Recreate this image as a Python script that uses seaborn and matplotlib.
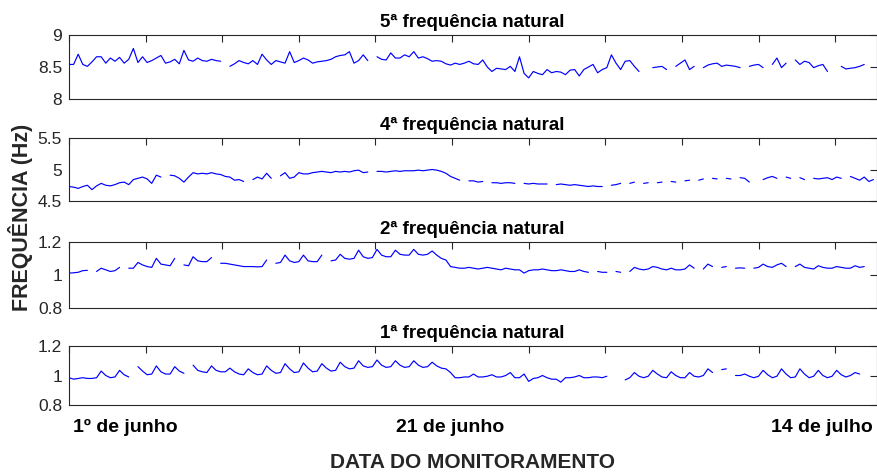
import numpy as np
import pandas as pd
import matplotlib
matplotlib.use("Agg")
import matplotlib.pyplot as plt
import matplotlib.transforms as mtransforms
import seaborn as sns

nan = np.nan
STEP_H = 6  # hours between stored samples

# 5a frequencia natural (Hz)
f5 = [
    8.54, 8.54, 8.70, 8.54,  8.51, 8.58, 8.66, 8.66,
    8.56, 8.64, 8.59, 8.65,  8.56, 8.62, 8.79, 8.57,
    8.66, 8.57, 8.60, 8.64,  8.68, 8.56, 8.58, 8.62,
    8.55, 8.76, 8.61, 8.59,  8.64, 8.60, 8.59, 8.62,
    8.60, 8.59, nan, 8.51,   8.55, 8.60, 8.57, 8.55,
    8.60, 8.54, 8.70, 8.61,  8.54, 8.60, 8.58, 8.56,
    8.74, 8.57, 8.60, 8.64,  8.61, 8.56, 8.58, 8.59,
    8.60, 8.62, 8.66, 8.68,  8.69, 8.74, 8.56, 8.60,
    8.69, 8.60, nan, 8.66,   8.62, 8.61, 8.72, 8.64,
    8.64, 8.69, 8.66, 8.74,  8.64, 8.66, 8.63, 8.59,
    8.60, 8.59, 8.55, 8.53,  8.56, 8.54, 8.56, 8.59,
    8.55, 8.54, 8.61, 8.50,  8.43, 8.48, 8.47, 8.46,
    8.51, 8.43, 8.66, 8.40,  8.33, 8.43, 8.40, 8.38,
    8.46, 8.41, 8.43, 8.42,  8.38, 8.45, 8.46, 8.36,
    8.46, 8.50, 8.54, 8.41,  8.46, 8.49, 8.69, 8.56,
    8.46, 8.59, 8.60, 8.51,  8.43, nan, nan, 8.49,
    8.50, 8.51, 8.46, nan,   8.51, 8.56, 8.61, 8.46,
    8.51, nan, 8.49, 8.53,   8.55, 8.56, 8.51, 8.53,
    8.52, 8.51, 8.49, nan,   8.51, 8.53, 8.54, 8.49,
    nan, 8.54, 8.64, 8.49,   8.56, nan, 8.61, 8.54,
    8.59, 8.57, 8.49, 8.52,  8.54, 8.43, nan, nan,
    8.51, 8.47, 8.48, 8.49,  8.51, 8.54, nan, nan,
]

# 4a frequencia natural (Hz)
f4 = [
    4.73, 4.72, 4.70, 4.73,  4.75, 4.68, 4.74, 4.78,
    4.75, 4.74, 4.76, 4.79,  4.80, 4.76, 4.84, 4.86,
    4.88, 4.85, 4.78, 4.91,  4.88, nan, 4.91, 4.90,
    4.86, 4.80, 4.88, 4.95,  4.93, 4.94, 4.93, 4.95,
    4.93, 4.92, 4.89, 4.88,  4.83, 4.84, 4.81, nan,
    4.84, 4.88, 4.85, 4.94,  4.86, nan, 4.90, 4.95,
    4.86, 4.88, 4.95, 4.93,  4.93, 4.95, 4.96, 4.97,
    4.96, 4.95, 4.97, 4.96,  4.97, 4.96, 4.98, 4.99,
    4.95, 4.96, nan, 4.97,   4.97, 4.96, 4.97, 4.98,
    4.97, 4.98, 4.98, 4.98,  4.99, 4.98, 4.99, 5.00,
    4.99, 4.97, 4.94, 4.89,  4.86, 4.83, nan, 4.82,
    4.82, 4.80, 4.81, nan,   4.79, 4.79, 4.78, 4.79,
    4.79, 4.78, nan, 4.78,   4.77, 4.78, 4.77, 4.77,
    4.77, nan, 4.76, 4.77,   4.76, 4.75, 4.76, 4.75,
    4.74, 4.73, 4.74, 4.73,  4.73, nan, 4.75, 4.76,
    4.78, nan, 4.78, 4.80,   nan, 4.78, 4.79, nan,
    4.79, 4.80, nan, 4.81,   4.80, nan, 4.82, 4.83,
    nan, 4.83, 4.85, nan,    4.86, 4.85, nan, 4.86,
    4.85, nan, 4.87, 4.86,   4.80, nan, nan, 4.84,
    4.87, 4.89, 4.86, nan,   4.88, 4.86, nan, 4.87,
    4.84, nan, 4.86, 4.85,   4.86, 4.87, 4.84, 4.88,
    4.86, nan, 4.89, 4.86,   4.83, 4.88, 4.81, 4.84,
]

# 2a frequencia natural (Hz)
f2 = [
    1.010, 1.012, 1.015, 1.025,  1.027, nan, 1.020, 1.040,
    1.030, 1.020, 1.025, 1.045,  nan, 1.040, 1.040, 1.075,
    1.060, 1.050, 1.045, 1.100,  1.065, 1.060, 1.055, 1.100,
    nan, 1.060, 1.055, 1.110,    1.085, 1.080, 1.080, 1.105,
    nan, 1.070, 1.070, 1.065,    1.060, 1.055, 1.050, 1.050,
    1.050, 1.048, 1.050, 1.090,  nan, 1.070, 1.075, 1.120,
    1.085, 1.075, 1.080, 1.120,  1.085, 1.080, 1.080, 1.120,
    nan, 1.085, 1.090, 1.125,    1.100, 1.095, 1.100, 1.150,
    1.110, 1.100, 1.105, 1.155,  1.120, 1.110, 1.110, 1.150,
    1.125, 1.120, 1.120, 1.155,  1.125, 1.120, 1.125, 1.145,
    1.120, 1.100, 1.090, 1.050,  1.045, 1.040, 1.040, 1.045,
    1.040, 1.035, 1.040, 1.045,  1.040, 1.035, 1.030, 1.040,
    1.035, 1.030, 1.030, 1.010,  1.025, 1.030, 1.030, 1.035,
    1.030, 1.025, 1.025, 1.030,  1.025, 1.020, 1.020, 1.030,
    1.020, 1.015, nan, 1.020,    1.015, 1.015, nan, 1.020,
    1.015, nan, 1.020, 1.045,    1.035, 1.030, 1.035, 1.050,
    1.045, 1.035, 1.030, 1.040,  1.030, 1.030, 1.035, 1.060,
    1.040, nan, 1.035, 1.065,    1.050, nan, 1.045, 1.050,
    nan, 1.040, 1.042, 1.040,    nan, 1.040, 1.045, 1.065,
    1.050, 1.045, 1.060, 1.070,  1.050, nan, 1.050, 1.065,
    1.045, 1.040, 1.035, 1.055,  1.045, 1.040, 1.040, 1.050,
    1.045, 1.040, 1.040, 1.055,  1.045, 1.050, nan, nan,
]

# 1a frequencia natural (Hz)
f1 = [
    0.985, 0.975, 0.980, 0.985,  0.980, 0.980, 0.985, 1.030,
    1.000, 0.985, 0.990, 1.035,  1.005, 0.990, nan, 1.060,
    1.030, 1.005, 1.010, 1.065,  1.025, 1.010, 1.010, 1.060,
    1.030, 1.015, nan, 1.070,    1.035, 1.025, 1.020, 1.065,
    1.035, 1.025, 1.025, 1.050,  1.025, 1.010, 1.005, 1.045,
    1.020, 1.005, 1.010, 1.065,  1.035, 1.015, 1.020, 1.080,
    1.045, 1.020, 1.025, 1.085,  1.050, 1.025, 1.030, 1.080,
    1.050, 1.030, 1.035, 1.090,  1.060, 1.045, 1.050, 1.100,
    1.065, 1.055, 1.060, 1.105,  1.070, 1.055, 1.060, 1.100,
    1.070, 1.055, 1.060, 1.100,  1.070, 1.055, 1.060, 1.090,
    1.065, 1.050, 1.045, 1.020,  0.985, 0.985, 0.990, 0.990,
    1.010, 0.990, 0.990, 0.995,  1.005, 0.990, 0.990, 1.000,
    1.020, 0.985, 0.985, 1.010,  0.960, 0.980, 0.985, 1.000,
    0.985, 0.975, 0.975, 0.955,  0.985, 0.985, 0.990, 1.000,
    0.985, 0.985, 0.990, 0.990,  0.985, 0.995, nan, nan,
    nan, 0.970, 0.985, 1.020,    0.995, 0.985, 0.995, 1.035,
    1.010, 0.990, 0.985, 1.025,  1.000, 0.985, 0.985, 1.020,
    0.995, 0.990, 1.000, 1.045,  1.020, nan, 1.040, 1.045,
    nan, 1.000, 1.000, 1.010,    0.995, 0.985, 0.995, 1.035,
    1.005, 0.985, 0.995, 1.045,  1.010, 0.985, 0.990, 1.045,
    1.010, 0.985, 0.995, 1.035,  1.000, 0.985, 0.995, 1.035,
    1.005, 0.990, 1.000, 1.020,  1.010, nan, nan, nan,
]

series = [f5, f4, f2, f1]
titles = ["5ª frequência natural", "4ª frequência natural",
          "2ª frequência natural", "1ª frequência natural"]
ylims = [(8, 9), (4.5, 5.5), (0.8, 1.2), (0.8, 1.2)]
yticks = [[8, 8.5, 9], [4.5, 5, 5.5], [0.8, 1, 1.2], [0.8, 1, 1.2]]
yticklabels = [["8", "8.5", "9"], ["4.5", "5", "5.5"],
               ["0.8", "1", "1.2"], ["0.8", "1", "1.2"]]
xticks = list(range(0, 1001, 100))
x_max = 1054
date_labels = ["1º de junho", "21 de junho", "14 de julho"]
date_hours = [5, 497, 1049]
date_align = ["left", "center", "right"]

sns.set_style("white")
plt.rcParams["font.family"] = ["Liberation Sans", "DejaVu Sans"]

W, H = 877, 472
fig = plt.figure(figsize=(W / 100, H / 100), dpi=100)

# panel boxes in pixels: (top, bottom)
boxes = [(35, 99), (138, 201), (242, 307.5), (346, 405)]
left_px, right_px = 69, 876.5
GRAY = "#262626"

axes = []
for vals, title, yl, yt, ytl, (top, bot) in zip(series, titles, ylims, yticks, yticklabels, boxes):
    ax = fig.add_axes([left_px / W, 1 - bot / H, (right_px - left_px) / W, (bot - top) / H])
    v = np.asarray(vals, dtype=float)
    t = np.arange(len(v)) * STEP_H
    seg = np.cumsum(np.isnan(v))
    df = pd.DataFrame({"t": t, "v": v, "seg": seg}).dropna()
    sns.lineplot(data=df, x="t", y="v", units="seg", estimator=None,
                 color="#0000ff", linewidth=0.85, ax=ax, legend=False)
    ax.set_xlim(0, x_max)
    ax.set_ylim(*yl)
    ax.set_yticks(yt)
    ax.set_yticklabels(ytl)
    ax.set_xticks(xticks)
    ax.set_xticklabels([])
    ax.set_xlabel("")
    ax.set_ylabel("")
    ax.tick_params(direction="in", length=5, width=0.8, top=True, right=True,
                   color=GRAY, labelcolor=GRAY, labelsize=12.5, pad=5)
    for sp in ax.spines.values():
        sp.set_visible(True)
        sp.set_color(GRAY)
        sp.set_linewidth(0.8)
    ax.set_title(title, fontsize=13.5, fontweight="bold", color="black", pad=6)
    axes.append(ax)

bottom_ax = axes[-1]
trans = mtransforms.blended_transform_factory(bottom_ax.transData, fig.transFigure)
for lab, hx, ha in zip(date_labels, date_hours, date_align):
    bottom_ax.text(hx, 1 - 427 / H, lab, transform=trans, ha=ha, va="center",
                   fontsize=14, fontweight="bold", color="black")

fig.text(473 / W, 1 - 463 / H, "DATA DO MONITORAMENTO", ha="center", va="center",
         fontsize=15, fontweight="bold", color=GRAY)
fig.text(21 / W, 1 - 217 / H, "FREQUÊNCIA (Hz)", ha="center", va="center",
         rotation=90, fontsize=15.5, fontweight="bold", color=GRAY)

fig.savefig("out.png", dpi=100)
